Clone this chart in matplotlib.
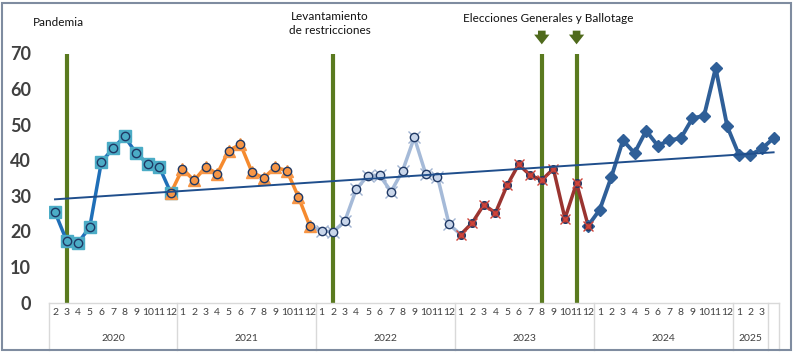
import numpy as np
import matplotlib.pyplot as plt
from matplotlib.lines import Line2D
from matplotlib.patches import Rectangle

plt.rcParams['font.family'] = ['Lato', 'DejaVu Sans']

# monthly values, Feb 2020 .. Apr 2025
v2020 = [25.4, 17.4, 16.8, 21.2, 39.5, 43.3, 46.7, 42.0, 39.0, 38.1, 30.8]
v2021 = [37.6, 34.3, 38.1, 36.2, 42.7, 44.5, 36.6, 35.0, 38.0, 37.1, 29.7, 21.4]
v2022 = [20.1, 19.9, 22.8, 31.9, 35.7, 35.8, 31.2, 37.1, 46.4, 36.0, 35.4, 22.0]
v2023 = [19.1, 22.4, 27.5, 25.2, 32.9, 38.8, 35.8, 34.4, 37.6, 23.6, 33.6, 21.6]
v2024 = [26.1, 35.3, 45.6, 42.0, 48.3, 44.1, 45.6, 46.2, 51.8, 52.5, 65.9, 49.5]
v2025 = [41.6, 41.5, 43.3, 46.2]

month_labels = ([str(m) for m in range(2, 13)] + [str(m) for m in range(1, 13)] * 4
                + ['1', '2', '3', ''])
years = ['2020', '2021', '2022', '2023', '2024', '2025']
year_sizes = [11, 12, 12, 12, 12, 3]

events = [1, 24, 42, 45]  # Mar-20, Feb-22, Aug-23, Nov-23
elections = [42, 45]

values = np.array(v2020 + v2021 + v2022 + v2023 + v2024 + v2025)
x = np.arange(len(values))

W, H = 798, 353
fig = plt.figure(figsize=(W / 100, H / 100), dpi=100)
x0, x1 = 49.2, 779.4
y0, y1 = 302.5, 53.5
ax = fig.add_axes([x0 / W, 1 - y0 / H, (x1 - x0) / W, (y0 - y1) / H])
ax.set_xlim(-0.5, len(values) - 0.5)
ax.set_ylim(0, 70)
for s in ax.spines.values():
    s.set_visible(False)

navy = '#1F3864'
olive = '#5A7A1F'

# event lines
for e in events:
    ax.plot([e, e], [0, 70], color=olive, lw=3, zorder=2, solid_capstyle='butt')
for e in elections:
    ax.annotate('', xy=(e, 71.8), xytext=(e, 77.2), annotation_clip=False,
                arrowprops=dict(arrowstyle='simple,head_width=1.1,head_length=0.7,tail_width=0.55',
                                color='#4F6A1C', lw=0))

# 2020
i1 = np.arange(0, 11)
ax.plot(i1, values[i1], color='#1F6FB8', lw=2.5, zorder=3)
ax.plot(i1, values[i1], ls='none', marker='s', ms=8, mfc='#4BACC6', mec='#4BACC6', zorder=4)
ax.plot(i1, values[i1], ls='none', marker='o', ms=6, mfc='#4BACC6', mec=navy, mew=1, zorder=4)

# 2021
i2 = np.arange(10, 23)
ax.plot(i2, values[i2], color='#F58A2E', lw=2.5, zorder=3)
ax.plot(i2, values[i2], ls='none', marker='^', ms=8, mfc='#F79646', mec='#F79646', zorder=4)
ax.plot(i2, values[i2], ls='none', marker='o', ms=6, mfc='#F79646', mec=navy, mew=1, zorder=4)

# 2022
i3 = np.arange(22, 36)
ax.plot(i3, values[i3], color='#A5BAD8', lw=2.5, zorder=3)
m3 = np.arange(23, 35)
ax.plot(m3, values[m3], ls='none', marker='x', ms=8, mec='#9FB3D1', mew=1, zorder=4)
ax.plot(m3, values[m3], ls='none', marker='o', ms=6, mfc='#C9D6EA', mec=navy, mew=1, zorder=4)

# 2023
i4 = np.arange(35, 47)
ax.plot(i4, values[i4], color='#9A3430', lw=2.5, zorder=3)

# 2024-2025
i5 = np.arange(46, len(values))
ax.plot(i5, values[i5], color='#2F5F98', lw=2.8, zorder=3)
ax.plot(i5, values[i5], ls='none', marker='D', ms=6.5, mfc='#2F5F98', mec='#2F5F98', zorder=4)

ax.plot(i4, values[i4], ls='none', marker='o', ms=5.5, mfc='#B23A33', mec=navy, mew=1, zorder=5)
ax.plot(i4, values[i4], ls='none', marker='x', ms=7, mec='#D0453A', mew=1, zorder=5)

# linear trend of the whole series
k, b = np.polyfit(x, values, 1)
ax.plot(x, k * x + b, color='#1F4E8C', lw=1.4, zorder=6)

# axes text
ax.set_yticks(range(0, 71, 10))
ax.set_yticklabels([str(t) for t in range(0, 71, 10)], fontsize=13, fontweight='bold', color='#404040')
ax.tick_params(axis='y', length=0, pad=13)
ax.set_xticks(x)
ax.set_xticklabels(month_labels, fontsize=7.5, color='#404040')
ax.tick_params(axis='x', length=0, pad=4)

# category table lines
tr = ax.get_xaxis_transform()
ybot = -(350 - y0) / (y0 - y1)
grid = '#D9D9D9'
ax.add_line(Line2D([-0.5, len(values) - 0.5], [0, 0], transform=tr, color=grid, lw=1, clip_on=False))
start = 0
bounds = [-0.5]
for yr, n in zip(years, year_sizes):
    ax.text(start + (n - 1) / 2, -0.145, yr, transform=tr, ha='center', va='center',
            fontsize=7.5, color='#404040')
    start += n
    bounds.append(start - 0.5)
bounds.append(len(values) - 0.5)
for bx in bounds:
    ax.add_line(Line2D([bx, bx], [0, ybot], transform=tr, color=grid, lw=1, clip_on=False))

# annotations
fig.text(58 / W, 1 - 22 / H, 'Pandemia', ha='center', va='center', fontsize=8.5, color='#111111')
fig.text(330 / W, 1 - 23.5 / H, 'Levantamiento\nde restricciones', ha='center', va='center',
         fontsize=8.5, color='#111111', linespacing=1.25)
fig.text(548 / W, 1 - 19 / H, 'Elecciones Generales y Ballotage', ha='center', va='center',
         fontsize=8.5, color='#111111')

fig.patches.append(Rectangle((2 / W, 1 - 350 / H), 789 / W, 347 / H, transform=fig.transFigure,
                             fill=False, ec='#7F8CA0', lw=1.5))

fig.savefig('out.png', dpi=100)
